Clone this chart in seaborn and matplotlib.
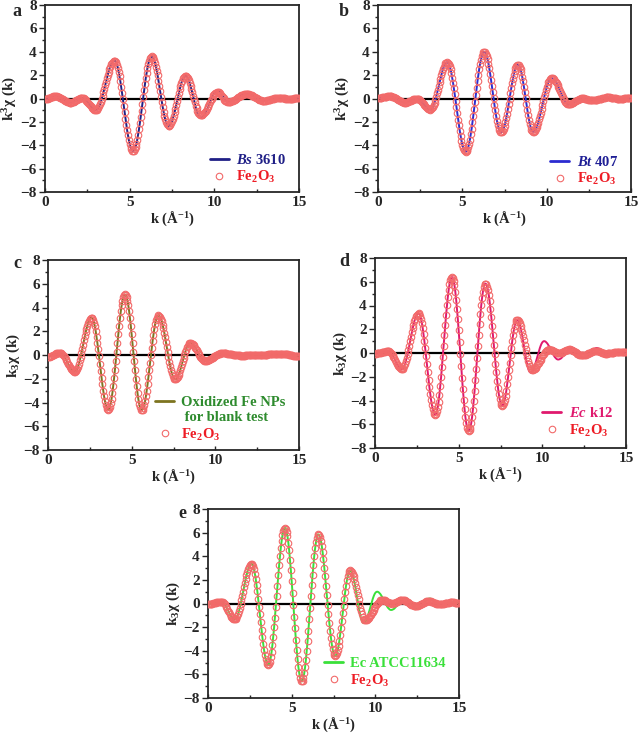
import numpy as np
import seaborn as sns
import matplotlib.pyplot as plt
from matplotlib.lines import Line2D

# k grid of the EXAFS spectra (0.05 step, 0..15)
k = np.linspace(0, 15, 301)

# Fe2O3 reference, panel a
fe2o3_a = [
    -0.05, -0.05, -0.03, -0.01, 0.01, 0.04, 0.08, 0.11, 0.14, 0.16, 0.18, 0.20, 0.20, 0.20, 0.18, 0.16, 0.14, 0.10, 0.06, 0.02,
    -0.03, -0.08, -0.12, -0.17, -0.21, -0.25, -0.29, -0.31, -0.33, -0.35, -0.35, -0.35, -0.33, -0.31, -0.27, -0.24, -0.19, -0.15, -0.11, -0.06,
    -0.03, 0.01, 0.03, 0.04, 0.05, 0.04, 0.01, -0.04, -0.10, -0.18, -0.27, -0.37, -0.48, -0.58, -0.68, -0.77, -0.85, -0.91, -0.96, -0.99,
    -1.00, -0.98, -0.91, -0.81, -0.66, -0.48, -0.27, -0.02, 0.24, 0.53, 0.82, 1.13, 1.43, 1.72, 2.01, 2.27, 2.52, 2.73, 2.91, 3.06,
    3.16, 3.23, 3.25, 3.21, 3.09, 2.90, 2.63, 2.30, 1.91, 1.47, 0.98, 0.47, -0.07, -0.63, -1.18, -1.72, -2.23, -2.72, -3.16, -3.55,
    -3.89, -4.15, -4.34, -4.46, -4.50, -4.46, -4.34, -4.13, -3.86, -3.51, -3.10, -2.64, -2.13, -1.59, -1.03, -0.45, 0.13, 0.69, 1.23, 1.74,
    2.20, 2.61, 2.96, 3.23, 3.44, 3.56, 3.60, 3.56, 3.45, 3.28, 3.03, 2.73, 2.37, 1.98, 1.54, 1.09, 0.63, 0.16, -0.29, -0.73,
    -1.12, -1.48, -1.78, -2.03, -2.20, -2.31, -2.35, -2.32, -2.24, -2.12, -1.94, -1.72, -1.46, -1.18, -0.86, -0.54, -0.20, 0.14, 0.46, 0.78,
    1.06, 1.32, 1.54, 1.72, 1.84, 1.92, 1.95, 1.92, 1.85, 1.72, 1.55, 1.34, 1.10, 0.83, 0.55, 0.25, -0.05, -0.33, -0.60, -0.84,
    -1.05, -1.22, -1.35, -1.42, -1.45, -1.44, -1.40, -1.34, -1.26, -1.16, -1.04, -0.90, -0.76, -0.61, -0.45, -0.29, -0.14, 0.00, 0.14, 0.26,
    0.36, 0.44, 0.50, 0.54, 0.55, 0.54, 0.49, 0.43, 0.34, 0.24, 0.13, 0.02, -0.09, -0.18, -0.24, -0.29, -0.30, -0.30, -0.29, -0.27,
    -0.24, -0.21, -0.18, -0.14, -0.10, -0.05, 0.00, 0.05, 0.10, 0.15, 0.20, 0.24, 0.28, 0.31, 0.34, 0.37, 0.39, 0.40, 0.40, 0.40,
    0.39, 0.37, 0.34, 0.31, 0.28, 0.24, 0.19, 0.15, 0.10, 0.05, 0.01, -0.04, -0.08, -0.11, -0.14, -0.17, -0.19, -0.20, -0.20, -0.20,
    -0.19, -0.18, -0.17, -0.16, -0.14, -0.12, -0.10, -0.08, -0.05, -0.03, -0.01, 0.01, 0.02, 0.03, 0.04, 0.05, 0.05, 0.05, 0.05, 0.04,
    0.03, 0.02, 0.02, 0.01, 0.00, -0.01, -0.02, -0.02, -0.02, -0.02, -0.02, -0.01, 0.00, 0.00, 0.01, 0.02, 0.03, 0.04, 0.04, 0.05,
    0.05,
]

# Bs 3610 sits on the Fe2O3 curve except around 8.5-10.8
bs3610 = fe2o3_a[:170] + [
    1.53, 1.31, 1.05, 0.77, 0.46, 0.15, -0.16, -0.47, -0.75, -1.01, -1.23, -1.41, -1.54, -1.62, -1.65,
    -1.64, -1.59, -1.52, -1.43, -1.31, -1.17, -1.01, -0.84, -0.66, -0.48, -0.29, -0.11, 0.06, 0.22, 0.36,
    0.48, 0.57, 0.64, 0.69, 0.70,
    0.68, 0.63, 0.55, 0.45, 0.33, 0.20, 0.07, -0.05, -0.15, -0.23, -0.28,
] + fe2o3_a[216:]

# Fe2O3 reference, panel b
fe2o3_b = [
    0.05, 0.05, 0.06, 0.07, 0.08, 0.09, 0.11, 0.13, 0.14, 0.16, 0.17, 0.18, 0.19, 0.20, 0.20, 0.20, 0.18, 0.16, 0.14, 0.10,
    0.06, 0.02, -0.03, -0.08, -0.12, -0.17, -0.21, -0.25, -0.29, -0.31, -0.33, -0.35, -0.35, -0.35, -0.33, -0.31, -0.28, -0.25, -0.21, -0.18,
    -0.14, -0.10, -0.07, -0.04, -0.02, 0.00, 0.00, -0.01, -0.04, -0.08, -0.14, -0.21, -0.29, -0.38, -0.48, -0.57, -0.66, -0.74, -0.81, -0.87,
    -0.91, -0.94, -0.95, -0.93, -0.85, -0.73, -0.56, -0.36, -0.12, 0.16, 0.45, 0.76, 1.08, 1.39, 1.70, 1.99, 2.27, 2.51, 2.71, 2.88,
    3.00, 3.08, 3.10, 3.06, 2.95, 2.75, 2.49, 2.17, 1.78, 1.34, 0.86, 0.35, -0.18, -0.73, -1.27, -1.80, -2.31, -2.79, -3.23, -3.62,
    -3.94, -4.20, -4.40, -4.51, -4.55, -4.51, -4.38, -4.16, -3.87, -3.51, -3.07, -2.59, -2.05, -1.48, -0.88, -0.28, 0.33, 0.93, 1.50, 2.04,
    2.52, 2.96, 3.32, 3.61, 3.83, 3.96, 4.00, 3.96, 3.83, 3.62, 3.34, 2.99, 2.58, 2.12, 1.62, 1.09, 0.55, 0.01, -0.52, -1.02,
    -1.48, -1.89, -2.24, -2.52, -2.73, -2.86, -2.90, -2.86, -2.76, -2.58, -2.35, -2.05, -1.70, -1.32, -0.90, -0.45, 0.00, 0.45, 0.90, 1.32,
    1.70, 2.05, 2.35, 2.58, 2.76, 2.86, 2.90, 2.86, 2.73, 2.51, 2.23, 1.87, 1.46, 1.01, 0.52, 0.03, -0.47, -0.96, -1.41, -1.82,
    -2.18, -2.46, -2.68, -2.81, -2.85, -2.83, -2.76, -2.64, -2.48, -2.29, -2.06, -1.79, -1.51, -1.20, -0.88, -0.55, -0.22, 0.10, 0.41, 0.69,
    0.96, 1.19, 1.38, 1.54, 1.66, 1.73, 1.75, 1.74, 1.69, 1.63, 1.54, 1.42, 1.29, 1.14, 0.97, 0.80, 0.63, 0.45, 0.28, 0.11,
    -0.04, -0.17, -0.29, -0.38, -0.44, -0.49, -0.50, -0.50, -0.48, -0.46, -0.42, -0.38, -0.34, -0.29, -0.24, -0.19, -0.14, -0.10, -0.06, -0.02,
    0.00, 0.02, 0.02, 0.02, 0.01, 0.00, -0.02, -0.04, -0.07, -0.09, -0.11, -0.13, -0.14, -0.15, -0.15, -0.15, -0.14, -0.13, -0.12, -0.11,
    -0.09, -0.07, -0.05, -0.03, -0.02, 0.00, 0.02, 0.04, 0.06, 0.08, 0.09, 0.10, 0.10, 0.10, 0.09, 0.09, 0.08, 0.07, 0.06, 0.04,
    0.03, 0.02, 0.01, 0.00, -0.01, -0.02, -0.02, -0.02, -0.02, -0.01, -0.01, 0.00, 0.01, 0.02, 0.02, 0.03, 0.04, 0.04, 0.05, 0.05,
    0.05,
]
bt407 = list(fe2o3_b)

# Fe2O3 reference, panel c
fe2o3_c = [
    -0.15, -0.15, -0.13, -0.11, -0.08, -0.05, -0.01, 0.02, 0.06, 0.10, 0.13, 0.16, 0.18, 0.20, 0.20, 0.19, 0.15, 0.09, 0.01, -0.09,
    -0.20, -0.33, -0.46, -0.60, -0.74, -0.87, -1.00, -1.11, -1.21, -1.29, -1.35, -1.39, -1.40, -1.37, -1.29, -1.15, -0.97, -0.73, -0.46, -0.16,
    0.17, 0.52, 0.88, 1.23, 1.58, 1.91, 2.21, 2.48, 2.72, 2.90, 3.04, 3.12, 3.15, 3.10, 2.96, 2.73, 2.41, 2.01, 1.55, 1.03,
    0.47, -0.12, -0.73, -1.33, -1.92, -2.48, -3.00, -3.47, -3.86, -4.18, -4.41, -4.55, -4.60, -4.54, -4.36, -4.07, -3.67, -3.18, -2.60, -1.95,
    -1.25, -0.51, 0.25, 1.01, 1.75, 2.45, 3.10, 3.68, 4.17, 4.57, 4.86, 5.04, 5.10, 5.04, 4.86, 4.57, 4.17, 3.67, 3.09, 2.44,
    1.73, 0.99, 0.23, -0.54, -1.28, -1.99, -2.64, -3.22, -3.72, -4.12, -4.41, -4.59, -4.65, -4.60, -4.45, -4.21, -3.89, -3.48, -3.00, -2.47,
    -1.89, -1.28, -0.65, -0.02, 0.59, 1.17, 1.70, 2.18, 2.59, 2.91, 3.15, 3.30, 3.35, 3.32, 3.22, 3.06, 2.83, 2.56, 2.24, 1.88,
    1.48, 1.07, 0.65, 0.23, -0.18, -0.58, -0.94, -1.26, -1.53, -1.76, -1.92, -2.02, -2.05, -2.03, -1.96, -1.85, -1.69, -1.51, -1.29, -1.05,
    -0.79, -0.53, -0.26, 0.00, 0.24, 0.46, 0.64, 0.80, 0.91, 0.98, 1.00, 0.99, 0.95, 0.90, 0.82, 0.73, 0.63, 0.51, 0.38, 0.25,
    0.12, -0.01, -0.13, -0.23, -0.32, -0.40, -0.45, -0.49, -0.50, -0.50, -0.48, -0.46, -0.44, -0.40, -0.37, -0.32, -0.28, -0.23, -0.18, -0.12,
    -0.07, -0.03, 0.02, 0.05, 0.09, 0.11, 0.13, 0.15, 0.15, 0.15, 0.15, 0.14, 0.14, 0.13, 0.12, 0.11, 0.10, 0.09, 0.08, 0.06,
    0.05, 0.04, 0.02, 0.01, 0.00, -0.01, -0.02, -0.03, -0.04, -0.04, -0.05, -0.05, -0.05, -0.05, -0.05, -0.05, -0.04, -0.04, -0.04, -0.03,
    -0.03, -0.02, -0.02, -0.01, -0.01, 0.00, 0.00, 0.01, 0.01, 0.02, 0.02, 0.02, 0.03, 0.03, 0.03, 0.03, 0.03, 0.03, 0.03, 0.03,
    0.04, 0.04, 0.04, 0.05, 0.05, 0.05, 0.06, 0.06, 0.07, 0.07, 0.07, 0.08, 0.08, 0.09, 0.09, 0.09, 0.09, 0.10, 0.10, 0.10,
    0.10, 0.10, 0.10, 0.09, 0.08, 0.07, 0.06, 0.05, 0.03, 0.02, 0.00, -0.02, -0.03, -0.05, -0.06, -0.07, -0.08, -0.09, -0.10, -0.10,
    -0.10,
]
oxidized_fe = list(fe2o3_c)

# Fe2O3 reference, panels d and e
fe2o3_d = [
    -0.05, -0.05, -0.04, -0.03, -0.02, -0.01, 0.01, 0.03, 0.05, 0.07, 0.09, 0.11, 0.12, 0.13, 0.14, 0.15, 0.15, 0.14, 0.09, 0.02,
    -0.07, -0.18, -0.31, -0.45, -0.60, -0.75, -0.89, -1.02, -1.13, -1.22, -1.29, -1.34, -1.35, -1.32, -1.24, -1.09, -0.90, -0.66, -0.38, -0.07,
    0.27, 0.63, 1.00, 1.37, 1.73, 2.07, 2.38, 2.66, 2.90, 3.09, 3.24, 3.32, 3.35, 3.30, 3.14, 2.88, 2.53, 2.10, 1.59, 1.02,
    0.40, -0.26, -0.93, -1.59, -2.25, -2.87, -3.44, -3.95, -4.38, -4.73, -4.99, -5.15, -5.20, -5.13, -4.92, -4.57, -4.09, -3.50, -2.81, -2.03,
    -1.19, -0.31, 0.60, 1.51, 2.39, 3.23, 4.01, 4.70, 5.29, 5.77, 6.12, 6.33, 6.40, 6.32, 6.08, 5.69, 5.16, 4.50, 3.72, 2.85,
    1.91, 0.92, -0.10, -1.12, -2.11, -3.05, -3.92, -4.70, -5.36, -5.89, -6.28, -6.52, -6.60, -6.52, -6.30, -5.92, -5.41, -4.78, -4.03, -3.20,
    -2.30, -1.35, -0.38, 0.60, 1.55, 2.45, 3.28, 4.03, 4.66, 5.17, 5.55, 5.77, 5.85, 5.79, 5.60, 5.29, 4.87, 4.34, 3.73, 3.04,
    2.29, 1.51, 0.70, -0.11, -0.89, -1.64, -2.33, -2.94, -3.47, -3.89, -4.20, -4.39, -4.45, -4.39, -4.23, -3.96, -3.60, -3.16, -2.64, -2.06,
    -1.45, -0.83, -0.20, 0.41, 0.99, 1.51, 1.95, 2.31, 2.58, 2.74, 2.80, 2.77, 2.67, 2.52, 2.31, 2.05, 1.75, 1.42, 1.06, 0.70,
    0.34, -0.02, -0.35, -0.65, -0.91, -1.12, -1.27, -1.37, -1.40, -1.39, -1.36, -1.31, -1.24, -1.15, -1.05, -0.94, -0.81, -0.68, -0.55, -0.42,
    -0.29, -0.16, -0.05, 0.05, 0.14, 0.21, 0.26, 0.29, 0.30, 0.29, 0.28, 0.26, 0.23, 0.19, 0.15, 0.11, 0.08, 0.04, 0.02, 0.01,
    0.00, 0.01, 0.02, 0.04, 0.08, 0.11, 0.15, 0.19, 0.23, 0.26, 0.28, 0.29, 0.30, 0.30, 0.28, 0.26, 0.23, 0.19, 0.15, 0.10,
    0.05, 0.00, -0.05, -0.09, -0.13, -0.16, -0.18, -0.20, -0.20, -0.20, -0.18, -0.17, -0.14, -0.11, -0.08, -0.04, 0.00, 0.04, 0.08, 0.11,
    0.14, 0.17, 0.18, 0.20, 0.20, 0.20, 0.18, 0.16, 0.14, 0.11, 0.08, 0.04, 0.01, -0.01, -0.03, -0.05, -0.05, -0.05, -0.04, -0.04,
    -0.03, -0.02, 0.00, 0.01, 0.03, 0.04, 0.05, 0.07, 0.08, 0.09, 0.09, 0.10, 0.10, 0.10, 0.09, 0.08, 0.08, 0.07, 0.06, 0.05,
    0.05,
]
fe2o3_e = list(fe2o3_d)

# E. coli samples follow Fe2O3 up to ~8.5, then deviate
ec_k12 = fe2o3_d[:171] + [
    2.76, 2.63, 2.43, 2.15, 1.81, 1.43, 1.01, 0.58, 0.14, -0.28, -0.66, -1.00, -1.28, -1.48, -1.61, -1.65,
    -1.62, -1.55, -1.43, -1.26, -1.06, -0.83, -0.58, -0.33, -0.07, 0.18, 0.41, 0.61, 0.78, 0.90, 0.97, 1.00,
    0.99, 0.95, 0.88, 0.80, 0.69, 0.57, 0.44, 0.30, 0.15, 0.01, -0.12, -0.24, -0.35, -0.43, -0.50, -0.54, -0.55,
    -0.54, -0.51, -0.47, -0.41, -0.33, -0.25, -0.16, -0.07, 0.03, 0.12, 0.20, 0.28, 0.34, 0.38, 0.41, 0.42,
    0.41, 0.38, 0.34, 0.28, 0.21, 0.13, 0.04, -0.04, -0.13, -0.21, -0.28, -0.34, -0.38, -0.41, -0.42,
    -0.41, -0.38, -0.34, -0.28, -0.21, -0.13, -0.04, 0.04, 0.13, 0.21, 0.28, 0.34, 0.38, 0.41, 0.42,
    0.41, 0.38, 0.34, 0.28, 0.21, 0.14, 0.06, -0.01, -0.08, -0.14, -0.18, -0.21, -0.22,
    -0.21, -0.20, -0.17, -0.14, -0.10, -0.06, -0.02, 0.02, 0.05, 0.08, 0.09, 0.10,
    0.10, 0.10, 0.09, 0.09, 0.08, 0.07, 0.06, 0.06, 0.05, 0.05,
]
ec_atcc = list(ec_k12)

sns.set_style("ticks")
plt.rcParams["font.family"] = ["Liberation Serif", "DejaVu Serif"]
plt.rcParams["font.weight"] = "bold"
plt.rcParams["axes.labelweight"] = "bold"
plt.rcParams["mathtext.fontset"] = "custom"
plt.rcParams["mathtext.rm"] = "Liberation Serif:bold"
plt.rcParams["mathtext.it"] = "Liberation Serif:italic:bold"
plt.rcParams["mathtext.bf"] = "Liberation Serif:bold"

MARKER = "#f26a6a"
FE_TEXT = "#ee1c25"
MS = 4.7


def draw_panel(ax, fe, sample, line_color, labels, text_color, ylabel, letter_xy, letter, leg_anchor):
    ax.axhline(0, color="black", lw=1.6, zorder=1)
    sns.lineplot(x=k, y=sample, ax=ax, color=line_color, lw=1.4, estimator=None, sort=False, zorder=2)
    sns.lineplot(x=k, y=fe, ax=ax, color=MARKER, marker="o", linestyle="", ms=MS,
                 mfc="none", mec=MARKER, mew=0.8, estimator=None, sort=False, zorder=3)
    ax.set_xlim(0, 15)
    ax.set_ylim(-8, 8)
    ax.set_xticks([0, 5, 10, 15])
    ax.set_xticks([2.5, 7.5, 12.5], minor=True)
    ax.set_yticks(range(-8, 9, 2))
    ax.set_yticks(range(-7, 8, 2), minor=True)
    ax.tick_params(axis="x", which="major", direction="in", length=3, width=1, labelsize=11, pad=3)
    ax.tick_params(axis="x", which="minor", direction="in", length=2, width=1)
    ax.tick_params(axis="y", which="major", direction="out", length=4, width=1, labelsize=11, pad=2)
    ax.tick_params(axis="y", which="minor", direction="out", length=2, width=1)
    for s in ax.spines.values():
        s.set_linewidth(1.3)
        s.set_visible(True)
    ax.set_xlabel("k (Å$^{-1}$)", fontsize=10.5, labelpad=0)
    ax.set_ylabel(ylabel, fontsize=11, labelpad=1)

    handles = [Line2D([], [], color=line_color, lw=2)]
    colors = [text_color]
    # extra lines of a wrapped sample label get an empty handle
    for _ in labels[1:]:
        handles.append(Line2D([], [], ls="", marker=""))
        colors.append(text_color)
    handles.append(Line2D([], [], marker="o", ls="", mfc="none", mec=MARKER, ms=MS, mew=0.8))
    colors.append(FE_TEXT)
    ax.legend(handles, list(labels) + ["Fe$_2$O$_3$"], loc="lower right", bbox_to_anchor=leg_anchor,
              frameon=False, handlelength=1.3, handletextpad=0.5, labelspacing=0.15,
              labelcolor=colors, prop={"family": "Liberation Serif", "weight": "bold", "size": 10.5})
    ax.figure.text(letter_xy[0], letter_xy[1], letter, fontsize=13, fontweight="bold", ha="left", va="top")


fig = plt.figure(figsize=(6.38, 7.36), dpi=100)
W, H = 638, 736


def place(left, top, right, bottom):
    return fig.add_axes([left / W, 1 - bottom / H, (right - left) / W, (bottom - top) / H])


ax_a = place(45, 5, 299, 192)
ax_b = place(378, 5, 631, 192)
ax_c = place(48, 260, 299, 450)
ax_d = place(375, 258, 626, 448)
ax_e = place(208, 509, 459, 698)

ylab_sup = "k$^3$χ (k)"
ylab_sub = "k$_3$χ (k)"

draw_panel(ax_a, fe2o3_a, bs3610, "#1f1f86", ["$\\mathit{Bs}$ 3610"], "#1f1f86", ylab_sup,
           (12 / W, 1 - 3 / H), "a", (1.0, -0.035))
draw_panel(ax_b, fe2o3_b, bt407, "#2b2bd0", ["$\\mathit{Bt}$ 407"], "#1f1f96", ylab_sup,
           (339 / W, 1 - 3 / H), "b", (1.0, -0.045))
draw_panel(ax_c, fe2o3_c, oxidized_fe, "#7d7420", ["Oxidized Fe NPs", " for blank test"], "#2e8b2e", ylab_sub,
           (13 / W, 1 - 255 / H), "c", (1.0, -0.03))
draw_panel(ax_d, fe2o3_d, ec_k12, "#e0196e", ["$\\mathit{Ec}$ k12"], "#e0196e", ylab_sub,
           (339 / W, 1 - 253 / H), "d", (1.0, -0.02))
draw_panel(ax_e, fe2o3_e, ec_atcc, "#3ae03a", ["Ec ATCC11634"], "#3ae03a", ylab_sub,
           (178 / W, 1 - 505 / H), "e", (1.0, -0.02))

fig.savefig("out.png", dpi=100)
